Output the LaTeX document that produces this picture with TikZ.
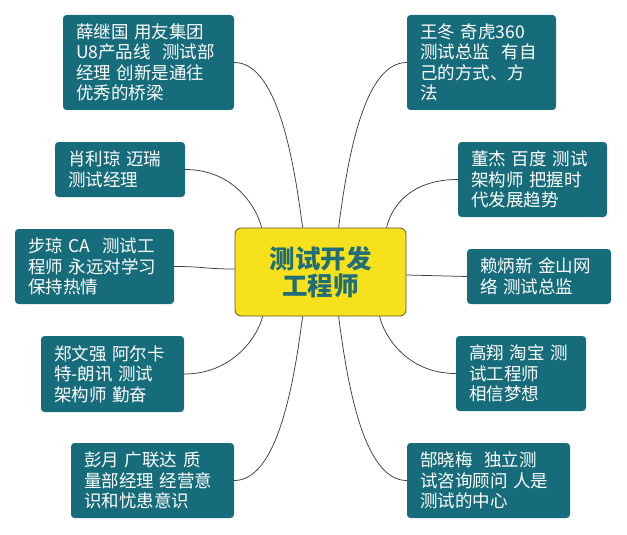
\documentclass[tikz,border=0pt]{standalone}
\usepackage{fontspec}
\setmainfont{Noto Sans CJK SC}
\usetikzlibrary{calc}
\definecolor{leafc}{RGB}{23,108,124}
\definecolor{rootc}{RGB}{247,224,28}
\definecolor{roottext}{RGB}{31,110,122}
\definecolor{linec}{RGB}{60,60,75}
\definecolor{rootborder}{RGB}{90,85,50}
\begin{document}
\begin{tikzpicture}[x=1pt,y=-1pt,
  leaf/.style={fill=leafc, rounded corners=3.5pt, text=white, align=left,
    inner xsep=13pt, inner ysep=0pt, font=\fontsize{17.5}{20.5}\selectfont},
  root/.style={fill=rootc, draw=rootborder, line width=0.8pt, rounded corners=6pt,
    text=roottext, align=center, inner sep=0pt,
    font=\fontsize{25.5}{27}\selectfont\bfseries},
  conn/.style={draw=linec, line width=0.75pt}]
\useasboundingbox (0,0) rectangle (627,535);
\node[root, minimum width=171pt, minimum height=88pt] (c) at (320.5,272) {测试开发\\工程师};
\node[leaf, minimum width=171pt, minimum height=95pt, text width=145pt] (b1) at (148.5,62.5) {薛继国~用友集团\\U8产品线~~测试部\\经理~创新是通往\\优秀的桥梁};
\node[leaf, minimum width=149pt, minimum height=95pt, text width=123pt] (b2) at (481.5,62.5) {王冬~奇虎360\\测试总监~~有自\\己的方式、方\\法};
\node[leaf, minimum width=130pt, minimum height=55pt, text width=104pt] (b3) at (120,169.5) {肖利琼~迈瑞\\测试经理};
\node[leaf, minimum width=149pt, minimum height=75pt, text width=123pt] (b4) at (532.5,179.5) {董杰~百度~测试\\架构师~把握时\\代发展趋势};
\node[leaf, minimum width=159pt, minimum height=75pt, text width=133pt] (b5) at (94.5,266.5) {步琼~CA~~测试工\\程师~永远对学习\\保持热情};
\node[leaf, minimum width=144pt, minimum height=55pt, text width=118pt] (b6) at (539,276.5) {赖炳新~金山网\\络~测试总监};
\node[leaf, minimum width=143pt, minimum height=76pt, text width=117pt] (b7) at (112.5,374) {郑文强~阿尔卡\\特-朗讯~测试\\架构师~勤奋};
\node[leaf, minimum width=130pt, minimum height=75pt, text width=104pt] (b8) at (521,373.5) {高翔~淘宝~测\\试工程师\\相信梦想};
\node[leaf, minimum width=163pt, minimum height=75pt, text width=137pt] (b9) at (152.5,480.5) {彭月~广联达~质\\量部经理~经营意\\识和忧患意识};
\node[leaf, minimum width=163pt, minimum height=75pt, text width=137pt] (b10) at (488.5,480.5) {郜晓梅~~独立测\\试咨询顾问~人是\\测试的中心};
% top connectors
\draw[conn] ($(c.north west)+(27,0)$) .. controls +(-4,-18) and +(50,0) .. (b3.east);
\draw[conn] ($(c.north west)+(68,0)$) .. controls +(-10,-78) and +(41,0) .. (b1.east);
\draw[conn] ($(c.north west)+(104,0)$) .. controls +(10,-78) and +(-41,0) .. (b2.west);
\draw[conn] ($(c.north west)+(152,0)$) .. controls +(4,-18) and +(-50,0) .. (b4.west);
% side connectors
\draw[conn] ($(c.west)+(0,-3)$) .. controls +(-30,0) and +(30,0) .. (b5.east);
\draw[conn] ($(c.east)+(0,3)$) .. controls +(30,0) and +(-30,0) .. (b6.west);
% bottom connectors
\draw[conn] ($(c.south west)+(28,0)$) .. controls +(-4,18) and +(50,0) .. (b7.east);
\draw[conn] ($(c.south west)+(68,0)$) .. controls +(-10,78) and +(41,0) .. (b9.east);
\draw[conn] ($(c.south west)+(104,0)$) .. controls +(10,78) and +(-41,0) .. (b10.west);
\draw[conn] ($(c.south west)+(145,0)$) .. controls +(4,18) and +(-50,0) .. (b8.west);
\end{tikzpicture}
\end{document}
